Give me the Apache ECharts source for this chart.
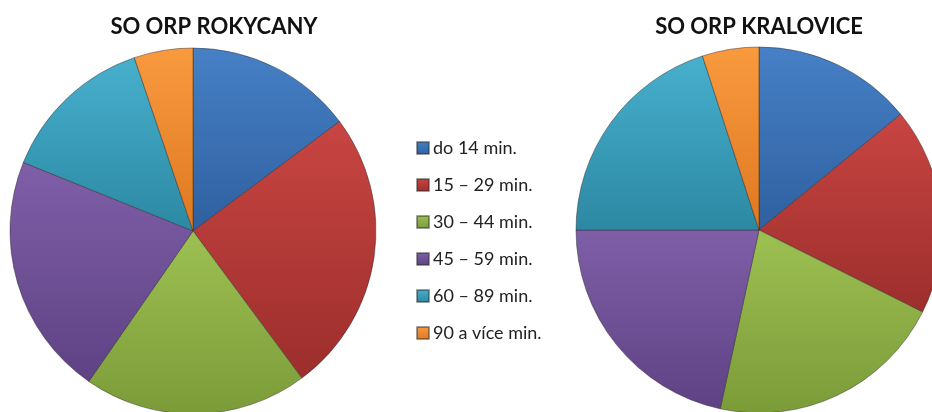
<!DOCTYPE html>
<html>
<head>
<meta charset="utf-8">
<script src="https://cdn.jsdelivr.net/npm/echarts@6/dist/echarts.min.js"></script>
<style>
  html, body { margin: 0; padding: 0; background: #fff; }
  #chart { width: 932px; height: 412px; }
</style>
</head>
<body>
<div id="chart"></div>
<script>
const categories = ['do 14 min.', '15 – 29 min.', '30 – 44 min.', '45 – 59 min.', '60 – 89 min.', '90 a více min.']
const titles = ['SO ORP ROKYCANY', 'SO ORP KRALOVICE']
// podíl v %
const rokycany = [14.8, 25.1, 19.8, 21.5, 13.7, 5.2]
const kralovice = [14.1, 18.3, 21.0, 21.6, 20.0, 5.0]

// light -> dark, excel-ish shading
const shades = [
  ['#4680c6', '#2f60a0'],
  ['#c84542', '#9c2e2c'],
  ['#9dc052', '#7b9b38'],
  ['#7f5fa8', '#5e4284'],
  ['#47b0cd', '#2c88a3'],
  ['#f99a3f', '#de7820']
]

function grad(i) {
  return new echarts.graphic.LinearGradient(0, 0, 0, 1, [
    { offset: 0, color: shades[i][0] },
    { offset: 1, color: shades[i][1] }
  ])
}

function pieData(values) {
  return values.map((v, i) => ({
    name: categories[i],
    value: v,
    itemStyle: { color: grad(i) }
  }))
}

const chart = echarts.init(document.getElementById('chart'))

const pieBase = {
  type: 'pie',
  radius: 183,
  startAngle: 90,
  clockwise: true,
  silent: true,
  animation: false,
  label: { show: false },
  labelLine: { show: false },
  itemStyle: {
    borderColor: 'rgba(40,40,40,0.45)',
    borderWidth: 1
  }
}

chart.setOption({
  backgroundColor: '#fff',
  title: [
    {
      text: titles[0],
      left: 209,
      top: 11,
      textAlign: 'center',
      textStyle: { fontFamily: 'Lato', fontWeight: 'bold', fontSize: 22, color: '#111' }
    },
    {
      text: titles[1],
      left: 754,
      top: 11,
      textAlign: 'center',
      textStyle: { fontFamily: 'Lato', fontWeight: 'bold', fontSize: 22, color: '#111' }
    }
  ],
  legend: {
    orient: 'vertical',
    left: 411,
    top: 133,
    itemWidth: 12,
    itemHeight: 12,
    itemGap: 17,
    icon: 'rect',
    data: categories,
    selectedMode: false,
    textStyle: { fontFamily: 'Lato', fontSize: 18, color: '#222', lineHeight: 20, padding: [0, 0, 0, -1] }
  },
  series: [
    Object.assign({}, pieBase, { name: titles[0], center: [193, 231], data: pieData(rokycany) }),
    Object.assign({}, pieBase, { name: titles[1], center: [759, 230], data: pieData(kralovice) })
  ]
})
</script>
</body>
</html>
